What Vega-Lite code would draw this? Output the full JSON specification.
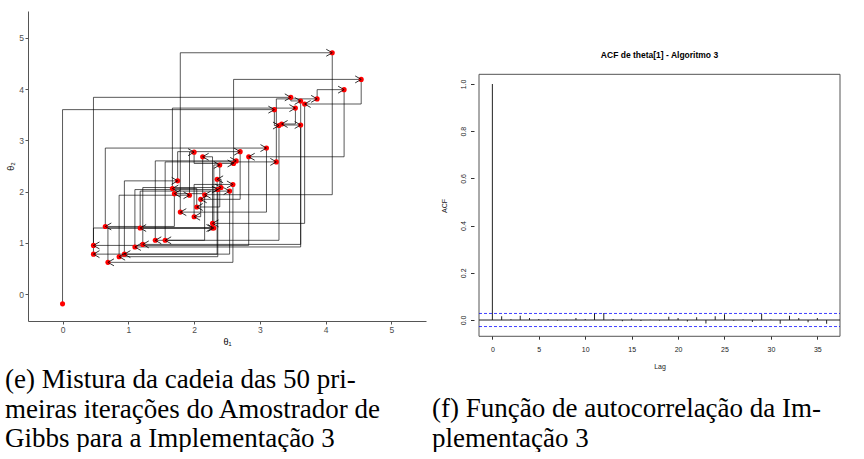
{
  "$schema": "https://vega.github.io/schema/vega-lite/v6.json",
  "padding": {"left": 5, "top": 11, "right": 0, "bottom": 0},
  "bounds": "flush",
  "spacing": 48,
  "config": {
    "view": {"stroke": null},
    "font": "Liberation Sans",
    "axis": {"labelFont": "Liberation Sans", "titleFont": "Liberation Sans", "grid": false}
  },
  "datasets": {
    "chain": [
      {"i": 0, "x": 0, "y": -0.19, "px": null, "py": null},
      {"i": 1, "x": 3.22, "y": 3.6, "px": 0, "py": -0.19},
      {"i": 2, "x": 3.29, "y": 3.29, "px": 3.22, "py": 3.6},
      {"i": 3, "x": 1.56, "y": 1.05, "px": 3.29, "py": 3.29},
      {"i": 4, "x": 3.25, "y": 2.58, "px": 1.56, "py": 1.05},
      {"i": 5, "x": 3.87, "y": 3.81, "px": 3.25, "py": 2.58},
      {"i": 6, "x": 4.28, "y": 3.99, "px": 3.87, "py": 3.81},
      {"i": 7, "x": 2.83, "y": 2.68, "px": 4.28, "py": 3.99},
      {"i": 8, "x": 0.47, "y": 0.95, "px": 2.83, "py": 2.68},
      {"i": 9, "x": 3.47, "y": 3.84, "px": 0.47, "py": 0.95},
      {"i": 10, "x": 3.62, "y": 3.77, "px": 3.47, "py": 3.84},
      {"i": 11, "x": 1.22, "y": 0.97, "px": 3.62, "py": 3.77},
      {"i": 12, "x": 2.41, "y": 2.08, "px": 1.22, "py": 0.97},
      {"i": 13, "x": 2.35, "y": 2.24, "px": 2.41, "py": 2.08},
      {"i": 14, "x": 0.47, "y": 0.78, "px": 2.35, "py": 2.24},
      {"i": 15, "x": 2.3, "y": 1.29, "px": 0.47, "py": 0.78},
      {"i": 16, "x": 2.39, "y": 2.52, "px": 2.3, "py": 1.29},
      {"i": 17, "x": 2.04, "y": 1.7, "px": 2.39, "py": 2.52},
      {"i": 18, "x": 1.67, "y": 2.06, "px": 2.04, "py": 1.7},
      {"i": 19, "x": 3.54, "y": 3.63, "px": 1.67, "py": 2.06},
      {"i": 20, "x": 3.33, "y": 3.32, "px": 3.54, "py": 3.63},
      {"i": 21, "x": 3.62, "y": 3.3, "px": 3.33, "py": 3.32},
      {"i": 22, "x": 1.1, "y": 0.92, "px": 3.62, "py": 3.3},
      {"i": 23, "x": 2.36, "y": 2.04, "px": 1.1, "py": 0.92},
      {"i": 24, "x": 0.86, "y": 0.73, "px": 2.36, "py": 2.04},
      {"i": 25, "x": 1.93, "y": 1.93, "px": 0.86, "py": 0.73},
      {"i": 26, "x": 2.0, "y": 2.77, "px": 1.93, "py": 1.93},
      {"i": 27, "x": 2.6, "y": 2.55, "px": 2.0, "py": 2.77},
      {"i": 28, "x": 4.54, "y": 4.19, "px": 2.6, "py": 2.55},
      {"i": 29, "x": 3.68, "y": 3.71, "px": 4.54, "py": 4.19},
      {"i": 30, "x": 2.28, "y": 1.38, "px": 3.68, "py": 3.71},
      {"i": 31, "x": 1.18, "y": 1.29, "px": 2.28, "py": 1.38},
      {"i": 32, "x": 2.54, "y": 2.01, "px": 1.18, "py": 1.29},
      {"i": 33, "x": 0.94, "y": 0.78, "px": 2.54, "py": 2.01},
      {"i": 34, "x": 1.75, "y": 2.21, "px": 0.94, "py": 0.78},
      {"i": 35, "x": 2.7, "y": 2.78, "px": 1.75, "py": 2.21},
      {"i": 36, "x": 2.1, "y": 1.85, "px": 2.7, "py": 2.78},
      {"i": 37, "x": 2.0, "y": 1.51, "px": 2.1, "py": 1.85},
      {"i": 38, "x": 2.59, "y": 2.14, "px": 2.0, "py": 1.51},
      {"i": 39, "x": 0.69, "y": 0.62, "px": 2.59, "py": 2.14},
      {"i": 40, "x": 2.28, "y": 1.29, "px": 0.69, "py": 0.62},
      {"i": 41, "x": 2.13, "y": 2.68, "px": 2.28, "py": 1.29},
      {"i": 42, "x": 1.7, "y": 1.96, "px": 2.13, "py": 2.68},
      {"i": 43, "x": 0.65, "y": 1.32, "px": 1.7, "py": 1.96},
      {"i": 44, "x": 3.1, "y": 2.85, "px": 0.65, "py": 1.32},
      {"i": 45, "x": 1.79, "y": 1.6, "px": 3.1, "py": 2.85},
      {"i": 46, "x": 4.1, "y": 4.71, "px": 1.79, "py": 1.6},
      {"i": 47, "x": 2.16, "y": 1.94, "px": 4.1, "py": 4.71},
      {"i": 48, "x": 1.41, "y": 1.05, "px": 2.16, "py": 1.94},
      {"i": 49, "x": 2.64, "y": 2.6, "px": 1.41, "py": 1.05}
    ],
    "acf": [
      {"lag": 0, "acf": 1.0}, {"lag": 1, "acf": 0.016}, {"lag": 2, "acf": 0.003},
      {"lag": 3, "acf": 0.018}, {"lag": 4, "acf": 0.008}, {"lag": 5, "acf": 0.004},
      {"lag": 6, "acf": 0.003}, {"lag": 7, "acf": -0.002}, {"lag": 8, "acf": 0.001},
      {"lag": 9, "acf": 0.008}, {"lag": 10, "acf": 0.004}, {"lag": 11, "acf": 0.03},
      {"lag": 12, "acf": 0.03}, {"lag": 13, "acf": 0.004}, {"lag": 14, "acf": -0.005},
      {"lag": 15, "acf": 0.006}, {"lag": 16, "acf": -0.004}, {"lag": 17, "acf": 0.001},
      {"lag": 18, "acf": -0.002}, {"lag": 19, "acf": 0.014}, {"lag": 20, "acf": 0.008},
      {"lag": 21, "acf": -0.006}, {"lag": 22, "acf": 0.012}, {"lag": 23, "acf": -0.015},
      {"lag": 24, "acf": 0.016}, {"lag": 25, "acf": 0.024}, {"lag": 26, "acf": -0.003},
      {"lag": 27, "acf": 0.002}, {"lag": 28, "acf": -0.008}, {"lag": 29, "acf": 0.025},
      {"lag": 30, "acf": 0.002}, {"lag": 31, "acf": -0.016}, {"lag": 32, "acf": 0.018},
      {"lag": 33, "acf": 0.008}, {"lag": 34, "acf": -0.01}, {"lag": 35, "acf": 0.008},
      {"lag": 36, "acf": -0.016}
    ],
    "zeroline": [{"c": 0, "x0": -1.44, "x1": 37.44}],
    "climhi": [{"c": 0.0277, "x0": -1.44, "x1": 37.44}],
    "climlo": [{"c": -0.0277, "x0": -1.44, "x1": 37.44}],
    "frame": [{"x0": -1.44, "x1": 37.44, "y0": -0.069, "y1": 1.041}],
    "acftitle": [{"t": "ACF de theta[1] - Algoritmo 3", "tx": 18, "ty": 1.124}]
  },
  "hconcat": [
    {
      "width": 398,
      "height": 310,
      "title": {
        "text": ["(e) Mistura da cadeia das 50 pri-", "meiras iterações do Amostrador de", "Gibbs para a Implementação 3"],
        "orient": "bottom", "anchor": "start", "frame": "group", "dx": -23, "offset": 21,
        "font": "Liberation Serif", "fontSize": 27, "fontWeight": "normal", "lineHeight": 29.5,
        "baseline": "top", "color": "black"
      },
      "data": {"name": "chain"},
      "layer": [
        {
          "transform": [{"filter": "datum.i > 0"}],
          "mark": {"type": "rule", "color": "black", "strokeWidth": 1, "opacity": 0.65},
          "encoding": {
            "x": {"field": "px", "type": "quantitative", "title": "θ₁",
              "scale": {"domain": [-0.525, 5.525], "nice": false, "zero": false},
              "axis": {"values": [0, 1, 2, 3, 4, 5], "format": "d", "domainColor": "#555", "tickColor": "#555", "tickSize": 3,
                "labelColor": "#4d4d4d", "labelFontSize": 8.5, "labelPadding": 1.5,
                "titleFontSize": 9, "titleFontWeight": "normal", "titlePadding": 3, "titleColor": "black"}},
            "y": {"field": "py", "type": "quantitative", "title": "θ₂",
              "scale": {"domain": [-0.525, 5.525], "nice": false, "zero": false},
              "axis": {"values": [0, 1, 2, 3, 4, 5], "format": "d", "domainColor": "#555", "tickColor": "#555", "tickSize": 3,
                "labelColor": "#4d4d4d", "labelFontSize": 8.5, "labelPadding": 1.5,
                "titleFontSize": 9, "titleFontWeight": "normal", "titlePadding": 3, "titleColor": "black"}},
            "y2": {"field": "y"}
          }
        },
        {
          "transform": [{"filter": "datum.i > 0"}],
          "mark": {"type": "rule", "color": "black", "strokeWidth": 1, "opacity": 0.65},
          "encoding": {
            "x": {"field": "px", "type": "quantitative", "title": "θ₁"},
            "x2": {"field": "x"},
            "y": {"field": "y", "type": "quantitative", "title": "θ₂"}
          }
        },
        {
          "mark": {"type": "circle", "color": "#ff0000", "size": 26, "opacity": 1},
          "encoding": {
            "x": {"field": "x", "type": "quantitative", "title": "θ₁"},
            "y": {"field": "y", "type": "quantitative", "title": "θ₂"}
          }
        },
        {
          "transform": [{"filter": "datum.i > 0 && datum.x > datum.px"}],
          "mark": {"type": "point", "shape": "M-1,-0.58L0,0L-1,0.58", "filled": false, "color": "black", "strokeWidth": 1, "size": 144, "opacity": 0.8},
          "encoding": {
            "x": {"field": "x", "type": "quantitative", "title": "θ₁"},
            "y": {"field": "y", "type": "quantitative", "title": "θ₂"}
          }
        },
        {
          "transform": [{"filter": "datum.i > 0 && datum.x < datum.px"}],
          "mark": {"type": "point", "shape": "M1,-0.58L0,0L1,0.58", "filled": false, "color": "black", "strokeWidth": 1, "size": 144, "opacity": 0.8},
          "encoding": {
            "x": {"field": "x", "type": "quantitative", "title": "θ₁"},
            "y": {"field": "y", "type": "quantitative", "title": "θ₂"}
          }
        }
      ]
    },
    {
      "width": 371,
      "height": 324.7,
      "title": {
        "text": ["(f) Função de autocorrelação da Im-", "plementação 3"],
        "orient": "bottom", "anchor": "start", "frame": "group", "dx": -42, "offset": 27,
        "font": "Liberation Serif", "fontSize": 27, "fontWeight": "normal", "lineHeight": 29.5,
        "baseline": "top", "color": "black"
      },
      "layer": [
        {
          "data": {"name": "frame"},
          "mark": {"type": "rect", "fill": "transparent", "stroke": "#555", "strokeWidth": 1},
          "encoding": {
            "x": {"field": "x0", "type": "quantitative", "title": "Lag",
              "scale": {"domain": [-1.44, 37.44], "nice": false, "zero": false},
              "axis": {"values": [0, 5, 10, 15, 20, 25, 30, 35], "domain": false, "tickColor": "#333", "tickSize": 3.5,
                "labelColor": "#222", "labelFontSize": 7, "labelPadding": 6,
                "titleFontSize": 7, "titleFontWeight": "normal", "titlePadding": 10, "titleColor": "#222"}},
            "x2": {"field": "x1"},
            "y": {"field": "y0", "type": "quantitative", "title": "ACF",
              "scale": {"domain": [-0.0665, 1.3093], "nice": false, "zero": false},
              "axis": {"values": [0, 0.2, 0.4, 0.6, 0.8, 1.0], "format": ".1f", "domain": false, "tickColor": "#333", "tickSize": 3.5,
                "labelColor": "#222", "labelFontSize": 7, "labelPadding": 4.5, "labelAngle": 270, "labelAlign": "center", "labelBaseline": "bottom",
                "titleFontSize": 7, "titleFontWeight": "normal", "titleColor": "#222", "titleAngle": 270,
                "titleX": -29.7, "titleY": 194.4, "titleAlign": "center", "titleBaseline": "middle"}},
            "y2": {"field": "y1"}
          }
        },
        {
          "data": {"name": "acf"},
          "mark": {"type": "bar", "orient": "vertical", "color": "#222", "width": 1},
          "encoding": {
            "x": {"field": "lag", "type": "quantitative", "title": "Lag"},
            "y": {"field": "acf", "type": "quantitative", "title": "ACF"}
          }
        },
        {
          "data": {"name": "zeroline"},
          "mark": {"type": "rule", "strokeWidth": 1, "color": "#222"},
          "encoding": {
            "x": {"field": "x0", "type": "quantitative", "title": "Lag"},
            "x2": {"field": "x1"},
            "y": {"field": "c", "type": "quantitative", "title": "ACF"}
          }
        },
        {
          "data": {"name": "climhi"},
          "mark": {"type": "rule", "strokeWidth": 1, "color": "#0000ff", "opacity": 0.75, "strokeDash": [3, 2]},
          "encoding": {
            "x": {"field": "x0", "type": "quantitative", "title": "Lag"},
            "x2": {"field": "x1"},
            "y": {"field": "c", "type": "quantitative", "title": "ACF"}
          }
        },
        {
          "data": {"name": "climlo"},
          "mark": {"type": "rule", "strokeWidth": 1, "color": "#0000ff", "opacity": 0.75, "strokeDash": [3, 2]},
          "encoding": {
            "x": {"field": "x0", "type": "quantitative", "title": "Lag"},
            "x2": {"field": "x1"},
            "y": {"field": "c", "type": "quantitative", "title": "ACF"}
          }
        },
        {
          "data": {"name": "acftitle"},
          "mark": {"type": "text", "font": "Liberation Sans", "fontSize": 8.5, "fontWeight": "bold", "color": "black", "baseline": "middle", "align": "center"},
          "encoding": {
            "x": {"field": "tx", "type": "quantitative", "title": "Lag"},
            "y": {"field": "ty", "type": "quantitative", "title": "ACF"},
            "text": {"field": "t"}
          }
        }
      ]
    }
  ]
}
